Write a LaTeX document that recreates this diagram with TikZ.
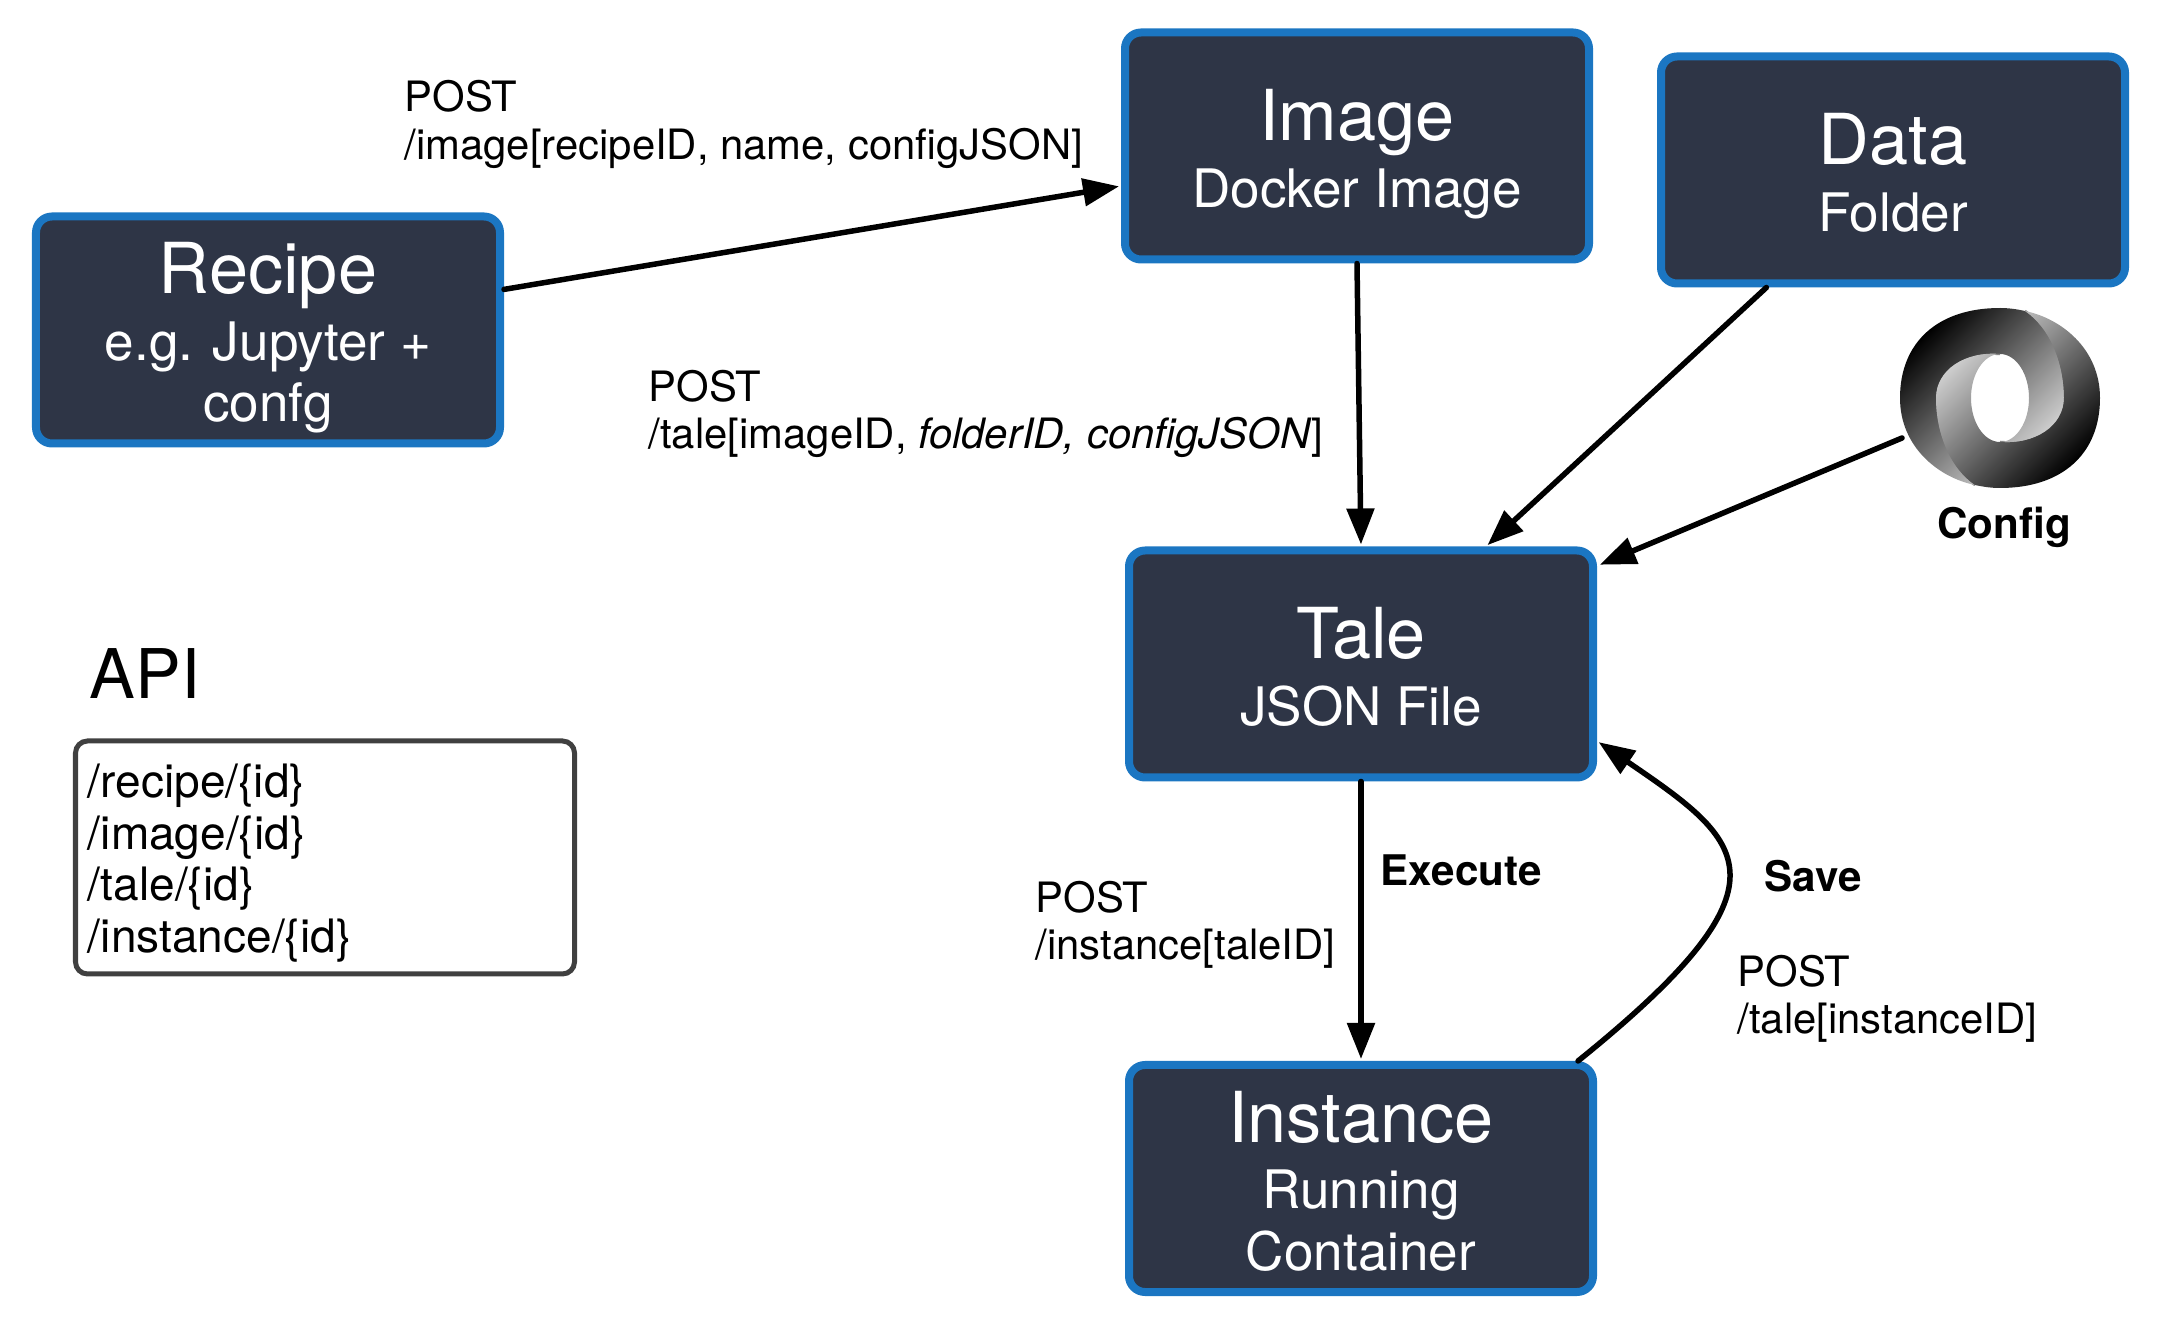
\documentclass[tikz,border=0pt]{standalone}
\usepackage{fontspec}
\setmainfont{TeX Gyre Heros}
\usepackage{xcolor}
\usetikzlibrary{arrows.meta,calc,positioning,shapes.geometric}
\definecolor{mnavy}{HTML}{2E3546}
\definecolor{mblue}{HTML}{1B76C2}
\definecolor{mgray}{HTML}{404040}
\tikzstyle{obj}=[rectangle, rounded corners=.16cm, draw=mblue, fill=mnavy, line width=.08cm, text=white, minimum width=4.64cm, minimum height=2.27cm, inner sep=0pt, align=center, font=\fontsize{15.1}{17.5}\selectfont]
\tikzstyle{lbl}=[anchor=west, align=left, inner sep=0pt, font=\fontsize{11.9}{13.5}\selectfont]
\tikzstyle{bold}=[anchor=west, inner sep=0pt, font=\fontsize{12}{14}\selectfont\bfseries]
\tikzstyle{api}=[rectangle, rounded corners=.12cm, draw=mgray, line width=.05cm, minimum width=4.99cm, minimum height=2.33cm, text width=4.74cm, inner xsep=.125cm, inner ysep=0pt, align=left, font=\fontsize{13.1}{14.7}\selectfont]
\tikzstyle{logo}=[ellipse, minimum width=2cm, minimum height=1.8cm, inner sep=0pt]
\tikzstyle{l1}=[line width=.055cm, line cap=round, shorten >=.02cm, -{Triangle[length=.36cm,width=.27cm]}]
\newcommand{\objtext}[2]{{\fontsize{20}{24}\selectfont\rule{0pt}{20.3pt}\smash{#1}}\\[1.5pt]#2\rule[-4.5pt]{0pt}{0pt}}
\newcommand{\logoband}{(-.25,-.87) .. controls (-.6,-.8) and (-1,-.5) .. (-1,0) .. controls (-1,.56) and (-.62,.9) .. (0,.9) .. controls (.08,.9) and (.16,.89) .. (.25,.87) .. controls (.5,.7) and (.64,.35) .. (.64,0) .. controls (.64,-.28) and (.35,-.47) .. (0,-.44) arc[start angle=-90, end angle=90, x radius=.29, y radius=.44] .. controls (-.35,.47) and (-.64,.28) .. (-.64,0) .. controls (-.64,-.35) and (-.5,-.7) .. (-.25,-.87) -- cycle}
\newcommand{\logoseam}{(.25,.87) .. controls (.5,.7) and (.64,.35) .. (.64,0) .. controls (.64,-.28) and (.35,-.47) .. (0,-.44)}

\begin{document}
\begin{tikzpicture}
    \useasboundingbox (0,0) rectangle (21.58,13.27);

    \node (recipe) [obj] at (2.68,9.97) {\objtext{Recipe}{e.g. Jupyter +\\confg}};
    \node (image) [obj] at (13.57,11.81) {\objtext{Image}{Docker Image}};
    \node (data) [obj] at (18.93,11.57) {\objtext{Data}{Folder}};
    \node (tale) [obj] at (13.61,6.63) {\objtext{Tale}{JSON File}};
    \node (instance) [obj] at (13.61,1.485) {\objtext{Instance}{Running\\Container}};

    \node (logo) [logo] at (20,9.29) {};
    \begin{scope}[shift={(logo.center)}]
    \draw[black!50, line width=.025cm] \logoseam;
    \draw[black!50, line width=.025cm, rotate=180] \logoseam;
    \shade[top color=black, bottom color=black!12, shading angle=45] \logoband;
    \shade[top color=black, bottom color=black!12, shading angle=225, rotate=180] \logoband;
    \end{scope}
    \node (config) [bold, anchor=center] at (20.04,8) {Config};

    \draw[l1] ([yshift=.406cm]recipe.east) -- ([yshift=-.4cm]image.west);
    \draw[l1] (image.south) -- (tale.north);
    \draw[l1] ([xshift=-1.266cm]data.south) -- ([xshift=1.25cm]tale.north);
    \draw[l1] ([xshift=-.98cm,yshift=-.4cm]logo.center) -- ([xshift=.01cm,yshift=-.19cm]tale.north east);
    \draw[l1] (tale.south) -- (instance.north);
    \draw[l1] ([xshift=2.17cm]instance.north) .. controls (18,4.45) and (17.45,4.85) .. ([yshift=-.77cm]tale.east);

    \node (post1) [lbl] at (4.04,12.025) {POST\\/image[recipeID, name, configJSON]};
    \node (post2) [lbl] at (6.48,9.13) {POST\\/tale[imageID, \emph{folderID, configJSON}]};
    \node (post3) [lbl] at (10.35,4.02) {POST\\/instance[taleID]};
    \node (post4) [lbl] at (17.37,3.28) {POST\\/tale[instanceID]};
    \node (execute) [bold] at (13.80,4.57) {Execute};
    \node (save) [bold] at (17.64,4.51) {Save};

    \node (apititle) [anchor=west, inner sep=0pt, font=\fontsize{19.5}{24}\selectfont] at (.89,6.53) {API};
    \node (apibox) [api] at (3.25,4.695) {\rule{0pt}{12.7pt}/recipe/\{id\}\\/image/\{id\}\\/tale/\{id\}\\/instance/\{id\}};
\end{tikzpicture}
\end{document}
